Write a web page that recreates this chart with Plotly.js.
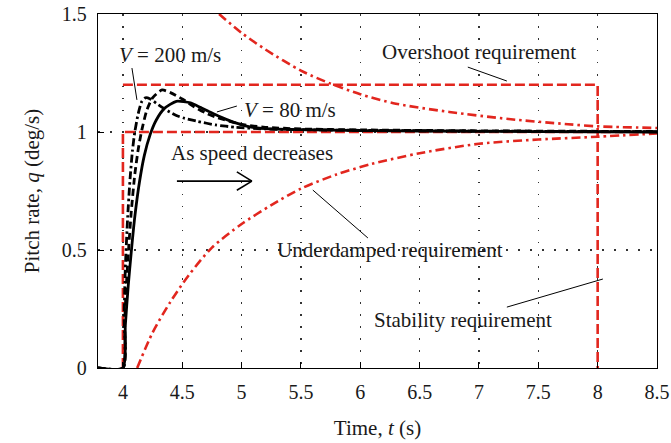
<!DOCTYPE html>
<html>
<head>
<meta charset="utf-8">
<script src="https://cdn.plot.ly/plotly-3.0.1.min.js"></script>
<style>html,body{margin:0;padding:0;background:#fff;}#chart{width:671px;height:443px;}</style>
</head>
<body>
<div id="chart"></div>
<script>
// Step responses (time in s, pitch rate in deg/s)
const t_v200 = [3.79, 4.0, 4.01, 4.02, 4.04, 4.06, 4.08, 4.10, 4.13, 4.16, 4.19, 4.23, 4.30, 4.38, 4.45, 4.52, 4.63, 4.78, 4.95, 5.2, 5.5, 6.0, 7.0, 8.0, 8.5];
const q_v200 = [0, 0, 0.22, 0.42, 0.64, 0.8, 0.92, 1.0, 1.08, 1.13, 1.145, 1.14, 1.115, 1.089, 1.07, 1.058, 1.045, 1.03, 1.02, 1.013, 1.01, 1.007, 1.004, 1.002, 1.001];

const t_vmid = [3.79, 4.0, 4.015, 4.03, 4.05, 4.07, 4.10, 4.13, 4.16, 4.20, 4.25, 4.33, 4.40, 4.50, 4.60, 4.70, 4.80, 4.90, 5.0, 5.2, 5.5, 6.0, 7.0, 8.0, 8.5];
const q_vmid = [0, 0, 0.2, 0.36, 0.52, 0.66, 0.82, 0.93, 1.01, 1.09, 1.145, 1.178, 1.167, 1.14, 1.107, 1.08, 1.06, 1.045, 1.032, 1.02, 1.013, 1.009, 1.005, 1.003, 1.002];

const t_v80 = [3.79, 4.0, 4.02, 4.045, 4.07, 4.10, 4.14, 4.18, 4.23, 4.28, 4.35, 4.45, 4.57, 4.65, 4.72, 4.82, 4.93, 5.07, 5.21, 5.49, 6.0, 7.0, 8.0, 8.5];
const q_v80 = [0, 0, 0.18, 0.35, 0.49, 0.64, 0.79, 0.9, 0.99, 1.05, 1.1, 1.13, 1.123, 1.105, 1.088, 1.064, 1.042, 1.022, 1.014, 1.01, 1.006, 1.003, 1.001, 1.0];

// Requirement envelopes
const t_upperEnv = [4.81, 5.0, 5.2, 5.5, 5.75, 6.0, 6.3, 6.75, 7.25, 7.75, 8.0, 8.5];
const q_upperEnv = [1.50, 1.42, 1.35, 1.26, 1.205, 1.16, 1.12, 1.085, 1.055, 1.033, 1.024, 1.017];

const t_lowerEnv = [4.12, 4.25, 4.40, 4.55, 4.75, 5.0, 5.25, 5.5, 5.8, 6.1, 6.5, 7.0, 7.5, 8.0, 8.5];
const q_lowerEnv = [0, 0.15, 0.28, 0.39, 0.51, 0.61, 0.69, 0.76, 0.82, 0.865, 0.91, 0.95, 0.968, 0.98, 0.994];

// Overshoot / stability boxes
const t_overshoot = [4, 8, 8];
const q_overshoot = [1.2, 1.2, 0];
const t_stability = [4, 4, 8.5];
const q_stability = [0, 1, 1];

const xTicks = [4, 4.5, 5, 5.5, 6, 6.5, 7, 7.5, 8, 8.5];
const xTickText = ['4', '4.5', '5', '5.5', '6', '6.5', '7', '7.5', '8', '8.5'];
const yTicks = [0, 0.5, 1, 1.5];
const yTickText = ['0', '0.5', '1', '1.5'];

const RED = 'rgb(226,38,30)';
const FONT = 'Liberation Serif, Times New Roman, serif';

const traces = [
  {x: t_upperEnv, y: q_upperEnv, mode: 'lines', line: {color: RED, width: 2.6, dash: '9px,4px,2.5px,4px', shape: 'spline', smoothing: 0.8}},
  {x: t_lowerEnv, y: q_lowerEnv, mode: 'lines', line: {color: RED, width: 2.6, dash: '9px,4px,2.5px,4px', shape: 'spline', smoothing: 0.8}},
  {x: t_overshoot, y: q_overshoot, mode: 'lines', line: {color: RED, width: 2.6, dash: '10px,4px'}},
  {x: t_stability, y: q_stability, mode: 'lines', line: {color: RED, width: 2.6, dash: '10px,4px'}},
  {x: t_v80, y: q_v80, mode: 'lines', line: {color: '#000', width: 2.8, shape: 'spline', smoothing: 0.6}},
  {x: t_vmid, y: q_vmid, mode: 'lines', line: {color: '#000', width: 2.8, dash: '7px,4px', shape: 'spline', smoothing: 0.6}},
  {x: t_v200, y: q_v200, mode: 'lines', line: {color: '#000', width: 2.8, dash: '8px,3px,2.5px,3px', shape: 'spline', smoothing: 0.6}}
];

const annFont = {family: FONT, size: 21, color: '#1a1a1a'};
const annotations = [
  {x: 4.396, y: 1.326, text: '<i>V</i> = 200 m/s', showarrow: false, font: annFont},
  {x: 5.407, y: 1.093, text: '<i>V</i> = 80 m/s', showarrow: false, font: annFont},
  {x: 5.087, y: 0.911, text: 'As speed decreases', showarrow: false, font: annFont},
  {x: 7.0, y: 1.339, text: 'Overshoot requirement', showarrow: false, font: annFont},
  {x: 6.249, y: 0.50, text: 'Underdamped requirement', showarrow: false, font: annFont},
  {x: 6.864, y: 0.203, text: 'Stability requirement', showarrow: false, font: annFont}
];

const leader = (x0, y0, x1, y1, w) => ({type: 'line', xref: 'x', yref: 'y', x0: x0, y0: y0, x1: x1, y1: y1, line: {color: '#000', width: w || 1}});
const shapes = [
  leader(4.076, 1.271, 4.118, 1.136),
  leader(4.792, 1.085, 4.96, 1.110),
  leader(6.906, 1.275, 7.235, 1.216),
  leader(5.60, 0.754, 6.064, 0.551),
  leader(7.235, 0.258, 8.044, 0.377),
  leader(4.455, 0.792, 5.087, 0.792, 1.6),
  leader(4.96, 0.831, 5.087, 0.792, 1.6),
  leader(4.96, 0.753, 5.087, 0.792, 1.6)
];

const axisCommon = {
  showline: true, mirror: true, linecolor: '#000', linewidth: 1.2,
  ticks: 'inside', ticklen: 6, tickwidth: 1, tickcolor: '#000',
  showgrid: true, gridcolor: '#333', gridwidth: 1.5, griddash: '1.5px,10.5px',
  zeroline: false,
  tickfont: {family: FONT, size: 20, color: '#1a1a1a'}
};

const layout = {
  width: 671, height: 443,
  margin: {l: 98, r: 14, t: 14, b: 75},
  paper_bgcolor: '#fff', plot_bgcolor: '#fff',
  showlegend: false,
  xaxis: Object.assign({}, axisCommon, {
    range: [3.79, 8.5], tickmode: 'array', tickvals: xTicks, ticktext: xTickText,
    ticklabelstandoff: 6,
    title: {text: 'Time, <i>t</i> (s)', font: {family: FONT, size: 21, color: '#1a1a1a'}, standoff: 18}
  }),
  yaxis: Object.assign({}, axisCommon, {
    range: [0, 1.5], tickmode: 'array', tickvals: yTicks, ticktext: yTickText,
    ticklabelstandoff: 6,
    title: {text: 'Pitch rate, <i>q</i> (deg/s)', font: {family: FONT, size: 21, color: '#1a1a1a'}, standoff: 16}
  }),
  annotations: annotations,
  shapes: shapes
};

Plotly.newPlot('chart', traces, layout, {displayModeBar: false, staticPlot: true});
</script>
</body>
</html>
